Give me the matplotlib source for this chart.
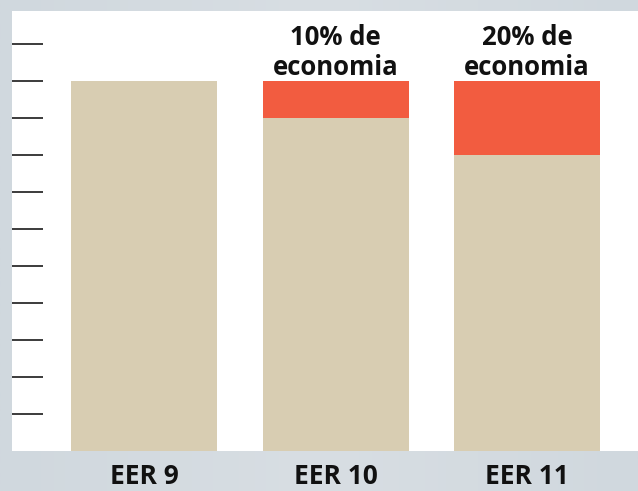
import matplotlib
matplotlib.use("Agg")
import matplotlib.pyplot as plt
import numpy as np

categories = ["EER 9", "EER 10", "EER 11"]
consumption = [10, 9, 8]
savings = [0, 1, 2]
annotations = ["", "10% de\neconomia", "20% de\neconomia"]
tick_values = list(range(1, 12))

W, H = 638, 491
fig = plt.figure(figsize=(W / 100, H / 100), dpi=100)
fig.patch.set_facecolor("#d3dae0")

# subtle gradient background
grad = np.linspace(0, 1, 256).reshape(1, -1)
bg = fig.add_axes([0, 0, 1, 1], zorder=-10)
bg.imshow(grad, aspect="auto", cmap=matplotlib.colors.LinearSegmentedColormap.from_list(
    "g", ["#d0d8de", "#d8dee3", "#d0d8de"]), extent=[0, 1, 0, 1])
bg.axis("off")

ax = fig.add_axes([12 / W, (H - 451) / H, (W - 12) / W, 440 / H])
ax.set_facecolor("white")
x = np.arange(len(categories))
width = 146 / 191.5
ax.bar(x, consumption, width=width, color="#d8cdb2", zorder=2)
ax.bar(x, savings, width=width, bottom=consumption, color="#f25c40", zorder=2)

ax.set_xlim(-132 / 191.5, (W - 144) / 191.5)
ax.set_ylim(0, 440 / 37)
ax.set_yticks(tick_values)
ax.set_yticklabels([])
ax.tick_params(axis="y", direction="in", length=31 * 0.72, width=1.2, color="#1a1a1a", left=True)
ax.set_xticks([])
for s in ax.spines.values():
    s.set_visible(False)

font = "Open Sans"
for xi, txt, c, sv in zip(x, annotations, consumption, savings):
    if txt:
        ax.text(xi, c + sv, txt, ha="center", va="bottom", fontsize=18.5,
                fontweight="bold", family=font, linespacing=1.15, color="#111111")

for xi, cat in zip(x, categories):
    px = (12 + (xi - ax.get_xlim()[0]) * 191.5) / W
    fig.text(px, 0.5 / H, cat, ha="center", va="bottom", fontsize=19,
             fontweight="bold", family=font, color="#111111")

fig.savefig("out.png", dpi=100, facecolor=fig.get_facecolor())
